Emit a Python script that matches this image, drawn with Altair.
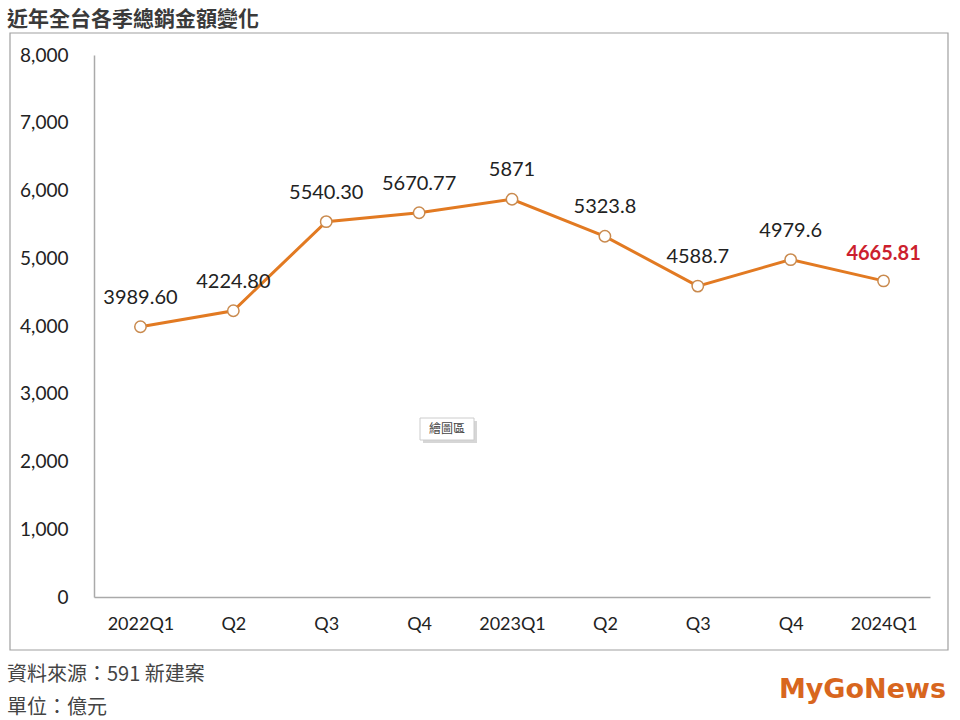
import altair as alt
import pandas as pd

keys = ["2022Q1", "2022Q2", "2022Q3", "2022Q4", "2023Q1", "2023Q2", "2023Q3", "2023Q4", "2024Q1"]
values = [3989.60, 4224.80, 5540.30, 5670.77, 5871, 5323.8, 4588.7, 4979.6, 4665.81]
labels = ["3989.60", "4224.80", "5540.30", "5670.77", "5871", "5323.8", "4588.7", "4979.6", "4665.81"]
highlight = [False] * 8 + [True]

title_text = "近年全台各季總銷金額變化"
source_text = "資料來源：591 新建案"
unit_text = "單位：億元"
logo_text = "MyGoNews"
tip_text = "繪圖區"

df = pd.DataFrame({"key": keys, "value": values, "label": labels, "hl": highlight})
one = pd.DataFrame({"a": [0]})

LINE = "#E27A22"
FONT = "Lato"
CJK = "Noto Sans CJK TC"

xenc = alt.X("key:O", sort=keys,
             scale=alt.Scale(type="point", padding=0.5),
             axis=alt.Axis(title=None, labelAngle=0, ticks=False, labelPadding=18,
                           labelFontSize=18, labelColor="#222", labelFont=FONT,
                           domainColor="#aaaaaa", domainWidth=1.5, zindex=1,
                           labelExpr="indexof(datum.value,'Q1')>=0 ? datum.value : slice(datum.value,4)"))
yenc = alt.Y("value:Q", scale=alt.Scale(domain=[0, 8000]),
             axis=alt.Axis(title=None, values=list(range(0, 8001, 1000)), format=",.0f",
                           ticks=False, grid=False, labelPadding=26, labelFontSize=19,
                           labelColor="#222", labelFont=FONT, zindex=1,
                           domainColor="#aaaaaa", domainWidth=1.5))

base = alt.Chart(df)

frame = alt.Chart(one).mark_rect(fill="transparent", stroke="#a0a0a0", strokeWidth=1.2).encode(
    x=alt.value(-84), x2=alt.value(854), y=alt.value(-22), y2=alt.value(595))

line = base.mark_line(color=LINE, strokeWidth=3).encode(x=xenc, y=yenc)
pts = base.mark_point(filled=True, fill="white", stroke="#C98A4E", strokeWidth=1.5,
                      size=130, opacity=1).encode(x=xenc, y=yenc)

lab_norm = base.transform_filter("!datum.hl").mark_text(
    dy=-29, fontSize=20, font=FONT, color="#222").encode(x=xenc, y=yenc, text="label:N")
lab_hl = base.transform_filter("datum.hl").mark_text(
    dy=-27, fontSize=20, font=FONT, fontWeight="bold", color="#CC1F2E").encode(
    x=xenc, y=yenc, text="label:N")

title = alt.Chart(one).mark_text(align="left", baseline="middle", fontSize=21,
                                 fontWeight="bold", font=CJK, color="#3a3a3a").encode(
    x=alt.value(-87), y=alt.value(-35), text=alt.value(title_text))
src = alt.Chart(one).mark_text(align="left", baseline="middle", fontSize=20,
                               font=CJK, color="#444").encode(
    x=alt.value(-87), y=alt.value(620), text=alt.value(source_text))
unit = alt.Chart(one).mark_text(align="left", baseline="middle", fontSize=20,
                                font=CJK, color="#444").encode(
    x=alt.value(-87), y=alt.value(653), text=alt.value(unit_text))
logo = alt.Chart(one).mark_text(align="right", baseline="middle", fontSize=27,
                                font="DejaVu Sans", fontWeight="bold", color="#D8661E").encode(
    x=alt.value(852), y=alt.value(635), text=alt.value(logo_text))

tip_shadow = alt.Chart(one).mark_rect(fill="#bbbbbb", opacity=0.6).encode(
    x=alt.value(329), x2=alt.value(383), y=alt.value(366), y2=alt.value(388))
tip_box = alt.Chart(one).mark_rect(fill="white", stroke="#cccccc").encode(
    x=alt.value(326), x2=alt.value(380), y=alt.value(363), y2=alt.value(385))
tip = alt.Chart(one).mark_text(align="center", baseline="middle", fontSize=12,
                               font=CJK, color="#444").encode(
    x=alt.value(353), y=alt.value(374), text=alt.value(tip_text))

chart = alt.layer(frame, tip_shadow, tip_box, tip, line, pts, lab_norm, lab_hl,
                  title, src, unit, logo).properties(
    width=836, height=542,
    autosize=alt.AutoSizeParams(type="none"),
    padding={"left": 94, "top": 55, "right": 30, "bottom": 123},
    background="white",
).configure_view(stroke=None)

chart.save("out.html", embed_options={"renderer": "svg", "actions": False})
